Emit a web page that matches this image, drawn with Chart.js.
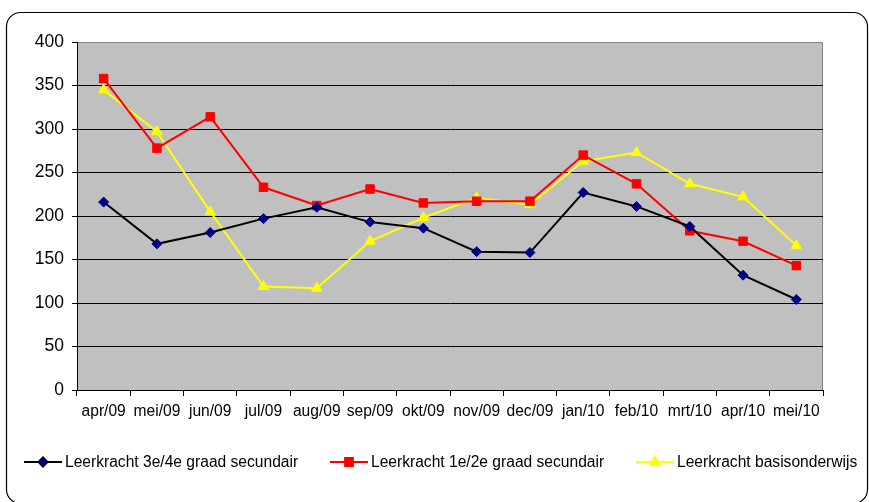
<!DOCTYPE html>
<html>
<head>
<meta charset="utf-8">
<script src="https://cdn.jsdelivr.net/npm/chart.js@4.4.1/dist/chart.umd.min.js"></script>
<style>
  html, body { margin: 0; padding: 0; background: #fff; }
  #wrap { width: 869px; height: 502px; position: relative; }
</style>
</head>
<body>
<div id="wrap"><canvas id="chart" width="869" height="502"></canvas></div>
<script>
// Maanden
const maanden = ["apr/09", "mei/09", "jun/09", "jul/09", "aug/09", "sep/09", "okt/09",
  "nov/09", "dec/09", "jan/10", "feb/10", "mrt/10", "apr/10", "mei/10"];

// Reeksen
const secundair34 = [216, 168, 181, 197, 210, 193, 186, 159, 158, 227, 211, 188, 132, 104];
const secundair12 = [358, 278, 314, 233, 212, 231, 215, 217, 217, 270, 237, 183, 171, 143];
const basis = [345, 297, 205, 119, 117, 171, 198, 221, 213, 263, 273, 237, 222, 166];

const reeksNamen = ["Leerkracht 3e/4e graad secundair", "Leerkracht 1e/2e graad secundair", "Leerkracht basisonderwijs"];
const yTicks = [0, 50, 100, 150, 200, 250, 300, 350, 400];

// grijze achtergrond + kader
const achtergrond = {
  id: "achtergrond",
  beforeDraw(chart) {
    const ctx = chart.ctx;
    const a = chart.chartArea;
    ctx.save();
    // afgerond kader rond alles
    ctx.strokeStyle = "#000";
    ctx.lineWidth = 1.2;
    ctx.beginPath();
    ctx.roundRect(6.5, 12.5, 861, 491, 14);
    ctx.stroke();
    ctx.fillStyle = "#c0c0c0";
    ctx.fillRect(a.left, a.top, a.right - a.left, a.bottom - a.top);
    ctx.strokeStyle = "#808080";
    ctx.lineWidth = 1;
    ctx.beginPath();
    ctx.moveTo(a.left, a.top + 0.5);
    ctx.lineTo(a.right - 0.5, a.top + 0.5);
    ctx.lineTo(a.right - 0.5, a.bottom);
    ctx.stroke();
    ctx.restore();
  }
};

// legenda zoals in Excel: lijntje met marker
const legendePlugin = {
  id: "legende",
  afterDraw(chart) {
    const ctx = chart.ctx;
    const posities = [24, 330, 636];
    const y = 462;
    ctx.save();
    chart.data.datasets.forEach((ds, i) => {
      const x = posities[i];
      ctx.strokeStyle = ds.borderColor;
      ctx.lineWidth = 2;
      ctx.beginPath();
      ctx.moveTo(x, y);
      ctx.lineTo(x + 38, y);
      ctx.stroke();
      Chart.helpers.drawPoint(ctx, {
        pointStyle: ds.pointStyle,
        radius: ds.pointRadius - 0.5,
        borderWidth: 1
      }, x + 19, y);
      ctx.fillStyle = ds.pointBackgroundColor;
      ctx.fill();
      ctx.fillStyle = "#000";
      ctx.font = "15.6px 'Liberation Sans', Arial, sans-serif";
      ctx.textBaseline = "middle";
      ctx.fillText(ds.label, x + 41, y + 1);
    });
    ctx.restore();
  }
};

const ctx = document.getElementById("chart").getContext("2d");
new Chart(ctx, {
  type: "line",
  data: {
    labels: maanden,
    datasets: [
      {
        label: reeksNamen[0],
        data: secundair34,
        borderColor: "#000000",
        borderWidth: 2,
        pointStyle: "rectRot",
        pointRadius: 5,
        pointBackgroundColor: "#000080",
        pointBorderColor: "#000080",
        pointBorderWidth: 1
      },
      {
        label: reeksNamen[1],
        data: secundair12,
        borderColor: "#ff0000",
        borderWidth: 2,
        pointStyle: "rect",
        pointRadius: 6,
        pointBackgroundColor: "#ff0000",
        pointBorderColor: "#ff0000",
        pointBorderWidth: 1
      },
      {
        label: reeksNamen[2],
        data: basis,
        borderColor: "#ffff00",
        borderWidth: 2,
        pointStyle: "triangle",
        pointRadius: 6,
        pointBackgroundColor: "#ffff00",
        pointBorderColor: "#ffff00",
        pointBorderWidth: 1
      }
    ]
  },
  options: {
    responsive: false,
    animation: false,
    layout: { padding: { top: 42, right: 46, bottom: 0, left: 0 } },
    plugins: {
      legend: { display: false },
      tooltip: { enabled: false }
    },
    scales: {
      x: {
        offset: true,
        grid: {
          offset: true,
          drawOnChartArea: false,
          color: "#000",
          tickLength: 6
        },
        border: { color: "#000", width: 1 },
        ticks: {
          color: "#000",
          font: { family: "'Liberation Sans', Arial, sans-serif", size: 15.6 },
          padding: 6,
          maxRotation: 0,
          autoSkip: false
        },
        afterFit(scale) { scale.height = 112; }
      },
      y: {
        min: 0,
        max: 400,
        afterBuildTicks(scale) { scale.ticks = yTicks.map(v => ({ value: v })); },
        grid: {
          color: (c) => c.tick && c.tick.value === 400 ? "rgba(0,0,0,0)" : "#000",
          tickColor: "#000",
          tickLength: 5
        },
        border: { color: "#000", width: 1 },
        ticks: {
          color: "#000",
          font: { family: "'Liberation Sans', Arial, sans-serif", size: 17.5 },
          padding: 8
        },
        afterFit(scale) { scale.width = 77; }
      }
    }
  },
  plugins: [achtergrond, legendePlugin]
});
</script>
</body>
</html>
